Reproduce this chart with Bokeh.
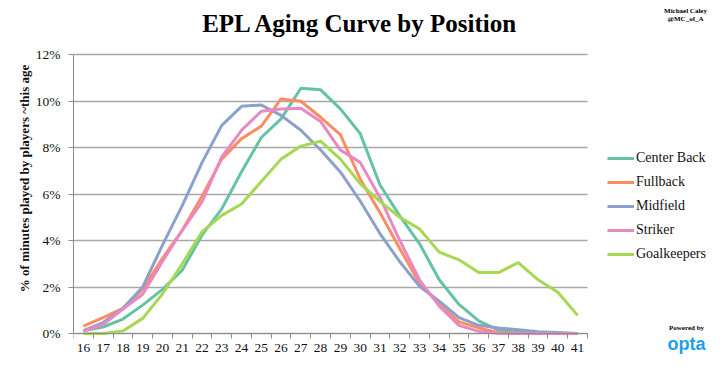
from bokeh.plotting import figure
from bokeh.models import (FixedTicker, PrintfTickFormatter, Label, Legend, LegendItem, Range1d,
                          BoxAnnotation)
from bokeh.embed import file_html
from bokeh.resources import INLINE

ages = list(range(16, 42))

center_back = [0.12, 0.28, 0.62, 1.22, 1.90, 2.72, 4.23, 5.36, 6.96, 8.43, 9.23, 10.55, 10.48,
               9.66, 8.60, 6.40, 5.06, 3.87, 2.31, 1.25, 0.54, 0.14, 0.06, 0.03, 0.01, 0.0]
fullback = [0.32, 0.68, 1.08, 1.90, 3.23, 4.44, 5.90, 7.50, 8.38, 8.92, 10.09, 9.99, 9.30,
            8.55, 6.65, 5.20, 3.66, 2.17, 1.25, 0.50, 0.24, 0.03, 0.01, 0.0, 0.0, 0.0]
midfield = [0.12, 0.47, 1.08, 2.00, 3.80, 5.50, 7.35, 8.95, 9.77, 9.83, 9.38, 8.74, 7.89,
            6.95, 5.70, 4.30, 3.09, 2.03, 1.39, 0.68, 0.35, 0.24, 0.16, 0.08, 0.04, 0.0]
striker = [0.10, 0.38, 1.05, 1.69, 3.10, 4.44, 5.66, 7.60, 8.74, 9.56, 9.66, 9.69, 9.12,
           7.89, 7.36, 5.85, 4.01, 2.31, 1.18, 0.35, 0.09, 0.01, 0.0, 0.0, 0.0, 0.0]
goalkeepers = [0.0, 0.0, 0.11, 0.65, 1.70, 3.00, 4.37, 5.08, 5.57, 6.54, 7.50, 8.06, 8.27,
               7.50, 6.45, 5.68, 5.00, 4.50, 3.50, 3.17, 2.62, 2.62, 3.05, 2.31, 1.77, 0.78]

series_names = ["Center Back", "Fullback", "Midfield", "Striker", "Goalkeepers"]
series_values = [center_back, fullback, midfield, striker, goalkeepers]
series_colors = ["#66c2a5", "#fc8d62", "#8da0cb", "#e78ac3", "#a6d854"]

y_ticks = [0, 2, 4, 6, 8, 10, 12]

title_text = "EPL Aging Curve by Position"
y_label = "% of minutes played by players ~this age"
credit_1 = "Michael Caley"
credit_2 = "@MC_of_A"
powered_text = "Powered by"
logo_text = "opta"

SERIF = "Liberation Serif"

# ---- layout (pixels) ----
W, H = 708, 356
LEFT = 73            # plot area left edge
PLOT_W = 514         # plot area width (26 age slots)
PLOT_TOP = 54        # y of the 12% line
PLOT_BOTTOM = 333    # y of the 0% line
X0, X1 = ages[0] - 0.5, ages[-1] + 0.5
Y0, Y1 = 0, 12
px_x = PLOT_W / (X1 - X0)
px_y = (PLOT_BOTTOM - PLOT_TOP) / (Y1 - Y0)

def fx(px):
    return X0 + (px - LEFT) / px_x

def fy(py):
    return (PLOT_BOTTOM - py) / px_y

p = figure(width=W, height=H, output_backend="svg", toolbar_location=None, title=None,
           x_range=Range1d(X0, fx(W)), y_range=Range1d(fy(H), fy(0)),
           min_border_left=LEFT, min_border_right=0, min_border_top=0, min_border_bottom=0)
p.outline_line_color = None
p.background_fill_color = "white"
p.border_fill_color = "white"

# grid
p.xgrid.grid_line_color = None
p.ygrid.ticker = FixedTicker(ticks=y_ticks)
p.ygrid.grid_line_color = "#a8a8a8"
p.ygrid.grid_line_width = 1.5
try:
    p.ygrid.cross_bounds = (X0, X1)
except Exception:
    p.add_layout(BoxAnnotation(left=X1, bottom=-0.06, fill_color="white", fill_alpha=1,
                               line_color=None))

# y axis
p.yaxis.ticker = FixedTicker(ticks=y_ticks)
p.yaxis.bounds = (Y0, Y1)
p.yaxis.formatter = PrintfTickFormatter(format="%d%%")
p.yaxis.axis_line_color = "#8c8c8c"
p.yaxis.major_tick_line_color = "#8c8c8c"
p.yaxis.major_tick_out = 5
p.yaxis.major_tick_in = 0
p.yaxis.minor_tick_line_color = None
p.yaxis.major_label_text_font = SERIF
p.yaxis.major_label_text_font_size = "13.5px"
p.yaxis.major_label_text_color = "#111111"
p.yaxis.major_label_standoff = 8
p.yaxis.axis_label = y_label
p.yaxis.axis_label_text_font = SERIF
p.yaxis.axis_label_text_font_style = "bold"
p.yaxis.axis_label_text_font_size = "13px"
p.yaxis.axis_label_text_color = "#111111"
p.yaxis.axis_label_standoff = 1

# x axis (ticks between the age slots), pinned at 0%
p.xaxis.ticker = FixedTicker(ticks=ages, minor_ticks=[a - 0.5 for a in ages] + [ages[-1] + 0.5])
p.xaxis.fixed_location = 0
p.xaxis.bounds = (X0, X1)
p.xaxis.axis_line_color = "#8c8c8c"
p.xaxis.major_tick_out = 0
p.xaxis.major_tick_in = 0
p.xaxis.minor_tick_out = 5
p.xaxis.minor_tick_in = 0
p.xaxis.minor_tick_line_color = "#8c8c8c"
p.xaxis.major_label_text_font = SERIF
p.xaxis.major_label_text_font_size = "13.5px"
p.xaxis.major_label_text_color = "#111111"
p.xaxis.major_label_standoff = 5

items = []
for name, vals, col in zip(series_names, series_values, series_colors):
    r = p.line(ages, vals, line_color=col, line_width=3)
    items.append(LegendItem(label=name, renderers=[r]))

legend = Legend(items=items, location=(607 - LEFT, H - 264), padding=0, margin=0, spacing=4,
                glyph_width=27, glyph_height=20, label_height=20, label_standoff=2,
                label_text_font=SERIF, label_text_font_size="14px", label_text_color="#111111",
                border_line_color=None, background_fill_alpha=0)
p.add_layout(legend)

p.add_layout(Label(x=fx(360), y=fy(23), text=title_text, text_align="center", text_baseline="middle",
                   text_font=SERIF, text_font_style="bold", text_font_size="25px", text_color="#000000"))
p.add_layout(Label(x=fx(685), y=fy(10), text=credit_1, text_align="center", text_baseline="middle",
                   text_font=SERIF, text_font_style="bold", text_font_size="7px", text_color="#000000"))
p.add_layout(Label(x=fx(685), y=fy(18), text=credit_2, text_align="center", text_baseline="middle",
                   text_font=SERIF, text_font_style="bold", text_font_size="7px", text_color="#000000"))
p.add_layout(Label(x=fx(686), y=fy(327), text=powered_text, text_align="center", text_baseline="middle",
                   text_font=SERIF, text_font_style="bold", text_font_size="7px", text_color="#000000"))
p.add_layout(Label(x=fx(686), y=fy(343), text=logo_text, text_align="center", text_baseline="alphabetic",
                   text_font="Liberation Sans", text_font_style="bold", text_font_size="18px",
                   text_color="#1ea0e6"))

open("out.html", "w").write(file_html(p, INLINE))
